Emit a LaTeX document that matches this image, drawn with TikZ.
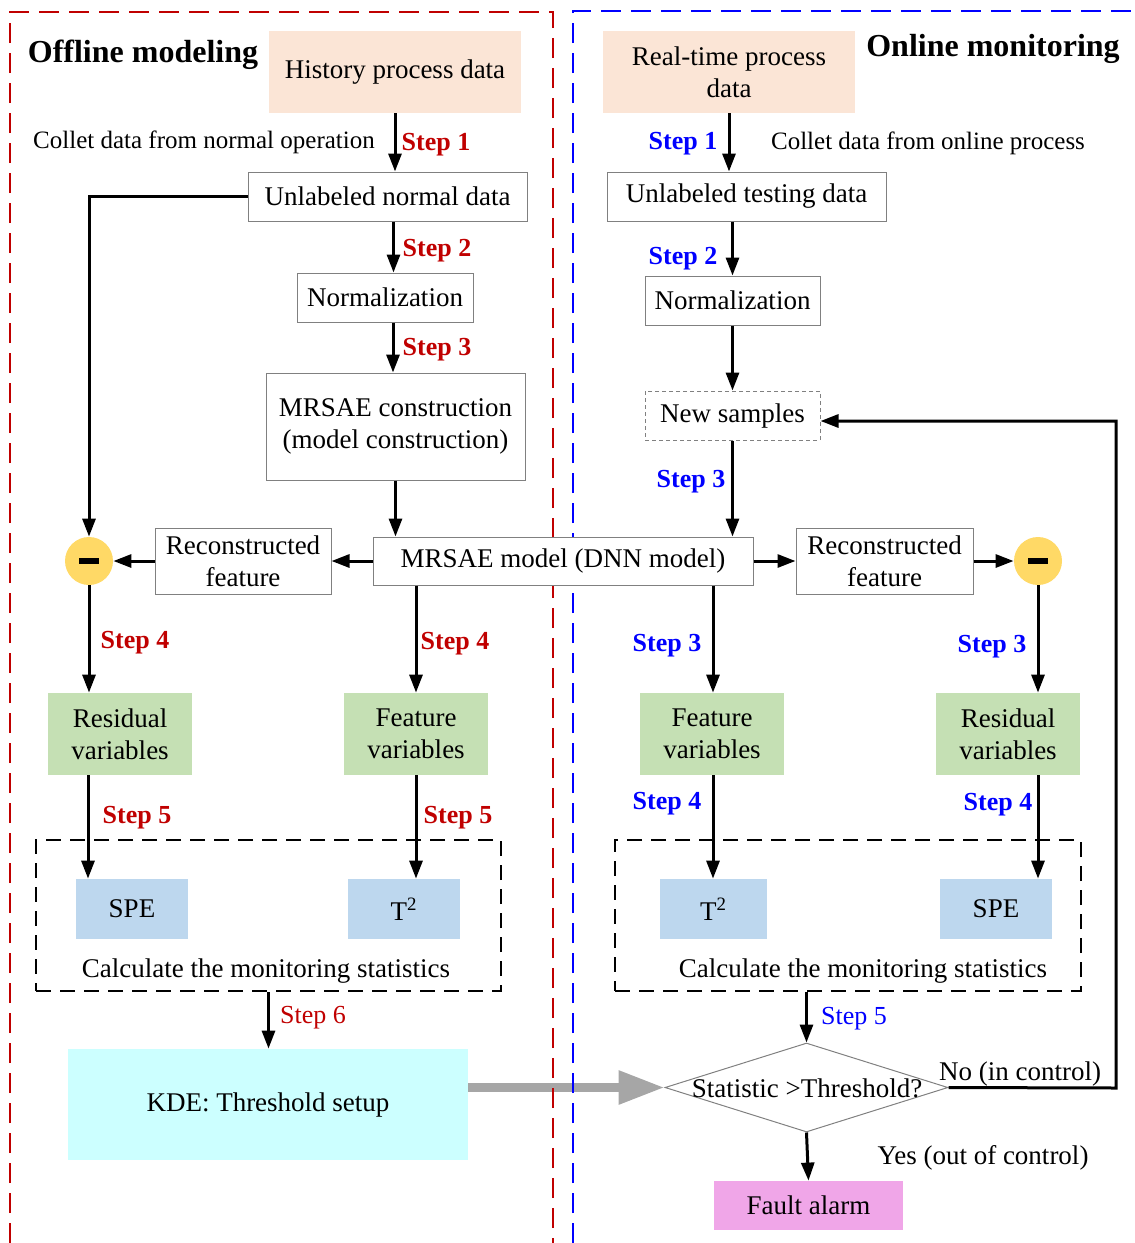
\documentclass[tikz,border=0pt]{standalone}
\usepackage{fontspec}
\setmainfont{Liberation Serif}
\usetikzlibrary{arrows.meta,shapes.geometric}
\pgfdeclarelayer{bg}
\pgfdeclarelayer{mid}
\pgfsetlayers{bg,mid,main}
\definecolor{peach}{HTML}{FBE5D6}
\definecolor{lgreen}{HTML}{C5E0B4}
\definecolor{lblue}{HTML}{BDD7EE}
\definecolor{lcyan}{HTML}{CCFFFF}
\definecolor{yell}{HTML}{FFD966}
\definecolor{pinkv}{HTML}{F0A6E8}
\definecolor{dred}{HTML}{C00000}
\definecolor{bblue}{HTML}{0000FF}
\definecolor{bord}{HTML}{808080}
\definecolor{garrow}{HTML}{A6A6A6}
\tikzset{
  txt/.style={font=\fontsize{13.5}{16}\selectfont, align=center, inner sep=0pt},
  lab/.style={txt, yshift=-1.5pt},
  anno/.style={font=\fontsize{12.5}{15}\selectfont, inner sep=0pt, yshift=-1.5pt},
  title/.style={font=\bfseries\fontsize{16}{19}\selectfont, inner sep=0pt, yshift=-1.5pt},
  pbox/.style={txt, draw=bord, fill=white, line width=0.5pt},
  fbox/.style={txt, fill=#1},
  minusc/.style={circle, fill=yell, minimum size=24pt, inner sep=0pt},
  dbox/.style={draw=black, line width=1pt, dash pattern=on 7.5pt off 4.5pt},
  arr/.style={line width=1.5pt, -{Triangle[length=9pt,width=6.5pt]}},
  rstep/.style={font=\bfseries\fontsize{13}{15}\selectfont, text=dred, inner sep=0pt, yshift=-1.5pt},
  bstep/.style={font=\bfseries\fontsize{13}{15}\selectfont, text=bblue, inner sep=0pt, yshift=-1.5pt},
  rstepn/.style={font=\fontsize{13}{15}\selectfont, text=dred, inner sep=0pt, yshift=-1.5pt},
  bstepn/.style={font=\fontsize{13}{15}\selectfont, text=bblue, inner sep=0pt, yshift=-1.5pt},
}
\begin{document}
\begin{tikzpicture}[x=0.5pt,y=-0.5pt]
\useasboundingbox (0,0) rectangle (1135,1243);
% frames
\begin{pgfonlayer}{mid}
\draw[dred, line width=1pt, dash pattern=on 10pt off 5pt] (10,1243) -- (10,12) -- (553,12) -- (553,1243);
\draw[bblue, line width=1pt, dash pattern=on 10pt off 5pt] (573,1243) -- (573,11) -- (1135,11);
\end{pgfonlayer}

% ---------- Offline ----------
\node[title] (tOff) at (143,52) {Offline modeling};
\node[fbox=peach, minimum width=126pt, minimum height=41pt] (hist) at (395,72) {History process data};
\node[anno] (c1) at (204,139) {Collet data from normal operation};
\node[pbox, minimum width=139.5pt, minimum height=24.5pt] (unl) at (387.5,196.5) {Unlabeled normal data};
\node[pbox, minimum width=88pt, minimum height=24.5pt] (norm1) at (385,297.5) {Normalization};
\node[pbox, minimum width=129.5pt, minimum height=53.5pt] (mrc) at (395.5,426.5) {MRSAE construction\\(model construction)};
\node[pbox, minimum width=190pt, minimum height=24pt] (model) at (563,561) {MRSAE model (DNN model)};
\node[pbox, minimum width=88pt, minimum height=33pt] (recL) at (243,561) {Reconstructed\\feature};
\node[minusc] (circL) at (89,561) {\rule[-1.5pt]{10pt}{3pt}};
\node[fbox=lgreen, minimum width=72pt, minimum height=41pt] (resL) at (120,734) {Residual\\variables};
\node[fbox=lgreen, minimum width=72pt, minimum height=41pt] (featL) at (416,734) {Feature\\variables};
\node[dbox, minimum width=232.5pt, minimum height=75.5pt, inner sep=0pt] (dashL) at (268.5,915.5) {};
\node[fbox=lblue, minimum width=56pt, minimum height=30pt] (speL) at (132,909) {SPE};
\node[fbox=lblue, minimum width=56pt, minimum height=30pt] (t2L) at (404,909) {T\textsuperscript{2}};
\node[lab] (calcL) at (266,968) {Calculate the monitoring statistics};
\node[fbox=lcyan, minimum width=200pt, minimum height=55.5pt] (kde) at (268,1104.5) {KDE: Threshold setup};

\node[rstep] (s1L) at (436,142) {Step 1};
\node[rstep] (s2L) at (437,248) {Step 2};
\node[rstep] (s3L) at (437,347) {Step 3};
\node[rstep] (s4La) at (135,640) {Step 4};
\node[rstep] (s4Lb) at (455,641) {Step 4};
\node[rstep] (s5La) at (137,815) {Step 5};
\node[rstep] (s5Lb) at (458,815) {Step 5};
\node[rstepn] (s6L) at (313,1015) {Step 6};

\draw[arr] (hist.south) -- (hist.south |- unl.north);
\draw[arr] ([xshift=3pt]unl.south) -- ([xshift=3pt]unl.south |- norm1.north);
\draw[arr] ([xshift=4pt]norm1.south) -- ([xshift=4pt]norm1.south |- mrc.north);
\draw[arr] (mrc.south) -- (mrc.south |- model.north);
\draw[arr] (model.west) -- (recL.east);
\draw[arr] (recL.west) -- (circL.east);
\draw[arr] (unl.west) -| (circL.north);
\draw[arr] (circL.south) -- (circL.south |- resL.north);
\draw[arr] (model.south -| featL.north) -- (featL.north);
\draw[arr] ([xshift=-16pt]resL.south) -- ([xshift=-16pt]resL.south |- speL.north);
\draw[arr] (featL.south) -- (featL.south |- t2L.north);
\draw[arr] (dashL.south) -- (dashL.south |- kde.north);

% ---------- Online ----------
\node[title] (tOn) at (993,46) {Online monitoring};
\node[fbox=peach, minimum width=126pt, minimum height=41pt] (rt) at (729,72) {Real-time process\\data};
\node[anno] (c2) at (928,140) {Collet data from online process};
\node[pbox, minimum width=139.5pt, minimum height=24.5pt] (unlR) at (746.5,196.5) {Unlabeled testing data};
\node[pbox, minimum width=87.5pt, minimum height=24.5pt] (normR) at (732.5,300.5) {Normalization};
\node[txt, draw=bord, fill=white, line width=0.5pt, dash pattern=on 2pt off 1.5pt, minimum width=87.5pt, minimum height=24.5pt] (newS) at (732.5,415.5) {New samples};
\node[pbox, minimum width=88.5pt, minimum height=33pt] (recR) at (884.5,561) {Reconstructed\\feature};
\node[minusc] (circR) at (1038,561) {\rule[-1.5pt]{10pt}{3pt}};
\node[fbox=lgreen, minimum width=72pt, minimum height=41pt] (featR) at (712,734) {Feature\\variables};
\node[fbox=lgreen, minimum width=72pt, minimum height=41pt] (resR) at (1008,734) {Residual\\variables};
\node[dbox, minimum width=233pt, minimum height=75.5pt, inner sep=0pt] (dashR) at (848,915.5) {};
\node[fbox=lblue, minimum width=53.5pt, minimum height=30pt] (t2R) at (713.5,909) {T\textsuperscript{2}};
\node[fbox=lblue, minimum width=56pt, minimum height=30pt] (speR) at (996,909) {SPE};
\node[lab] (calcR) at (863,968) {Calculate the monitoring statistics};
\node[diamond, draw=bord, line width=0.5pt, minimum width=141.5pt, minimum height=44.5pt, inner sep=0pt] (dia) at (806.5,1087.5) {};
\node[txt] (diat) at (807,1088) {Statistic >Threshold?};
\node[lab] (noc) at (1020,1071) {No (in control)};
\node[lab] (yes) at (983,1155) {Yes (out of control)};
\node[fbox=pinkv, minimum width=94.5pt, minimum height=24.5pt] (fault) at (808.5,1205.5) {Fault alarm};

\node[bstep] (s1R) at (683,141) {Step 1};
\node[bstep] (s2R) at (683,256) {Step 2};
\node[bstep] (s3R) at (691,479) {Step 3};
\node[bstep] (s3Ra) at (667,643) {Step 3};
\node[bstep] (s3Rb) at (992,644) {Step 3};
\node[bstep] (s4Ra) at (667,801) {Step 4};
\node[bstep] (s4Rb) at (998,802) {Step 4};
\node[bstepn] (s5R) at (854,1016) {Step 5};

\coordinate (fb1) at (1116,1088);
\coordinate (fb2) at (1116,421);

\draw[arr] (rt.south) -- (rt.south |- unlR.north);
\draw[arr] (normR.north |- unlR.south) -- (normR.north);
\draw[arr] (normR.south) -- (newS.north);
\draw[arr] (newS.south) -- (newS.south |- model.north);
\draw[arr] (model.east) -- (recR.west);
\draw[arr] (recR.east) -- (circR.west);
\draw[arr] (circR.south) -- (circR.south |- resR.north);
\draw[arr] ([xshift=0.5pt]model.south -| featR.north) -- ([xshift=0.5pt]featR.north);
\draw[arr] ([xshift=0.5pt]featR.south) -- ([xshift=0.5pt]featR.south |- t2R.north);
\draw[arr] ([xshift=15pt]resR.south) -- ([xshift=15pt]resR.south |- speR.north);
\draw[arr] (dia.north |- dashR.south) -- (dia.north);
\draw[arr] (dia.south) -- (fault.north);
\draw[arr] (dia.east) -- (fb1) -- (fb2) -- (newS.east |- fb2);
\begin{pgfonlayer}{bg}
\draw[garrow, line width=4.5pt, line cap=round, -{Triangle[length=23pt,width=16pt]}] (kde.east |- dia.west) -- (dia.west);
\end{pgfonlayer}
\end{tikzpicture}
\end{document}
